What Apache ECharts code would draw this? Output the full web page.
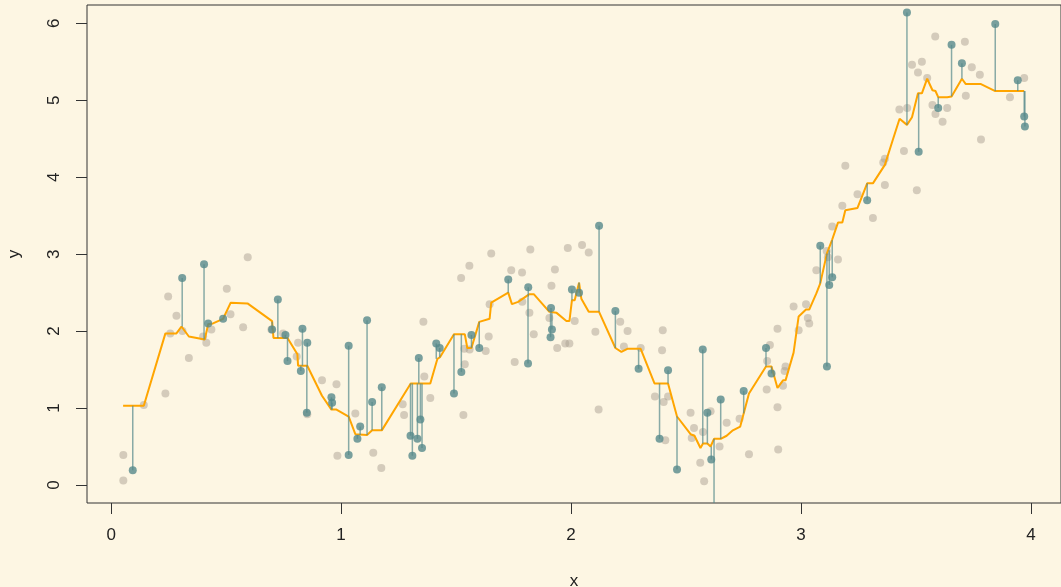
<!DOCTYPE html>
<html><head><meta charset="utf-8">
<script src="https://cdn.jsdelivr.net/npm/echarts@6/dist/echarts.min.js"></script>
<style>html,body{margin:0;padding:0;background:#FDF6E3}#c{width:1061px;height:587px}</style>
</head><body><div id="c"></div><script>
// training points (gray)
const trainX = [0.053,0.053,0.142,0.236,0.248,0.284,0.257,0.31,0.338,0.40,0.414,0.436,0.503,0.519,0.574,0.594,
 0.697,0.748,0.813,0.807,0.853,0.917,0.98,0.984,1.062,1.14,1.175,1.268,1.274,
 1.358,1.362,1.388,1.522,1.558,1.538,1.532,1.536,1.559,1.642,1.629,1.646,1.653,1.74,1.787,1.788,1.755,1.823,1.819,1.838,1.915,1.93,1.906,1.94,1.975,1.993,1.986,
 2.016,2.048,2.077,2.106,2.12,2.214,2.246,2.23,2.303,2.399,2.396,2.365,2.403,2.422,2.41,2.52,2.535,2.525,2.574,2.562,2.579,2.607,2.646,2.677,
 2.733,2.774,2.851,2.853,2.865,2.898,2.898,2.901,2.922,2.929,2.933,2.968,2.99,3.022,3.03,3.036,3.067,3.112,3.117,3.136,3.161,3.18,3.193,3.246,3.313,3.365,3.358,3.365,
 3.428,3.462,3.448,3.483,3.526,3.509,3.504,3.549,3.584,3.572,3.585,3.616,3.636,3.713,3.717,3.743,3.778,3.783,3.909,3.971];
const trainY = [0.39,0.06,1.04,1.19,2.45,2.20,1.97,2.00,1.65,1.93,1.85,2.02,2.55,2.22,2.05,2.96,
 2.02,1.97,1.85,1.67,0.92,1.36,1.31,0.38,0.93,0.42,0.22,1.05,0.91,
 2.12,1.41,1.13,2.69,2.85,1.57,0.91,1.77,1.76,1.93,1.74,2.35,3.01,2.79,2.76,2.38,1.60,3.06,2.24,1.96,2.59,2.80,2.17,1.78,1.84,1.84,3.08,
 2.13,3.12,3.02,1.99,0.98,2.12,2.00,1.80,1.78,2.01,1.75,1.15,1.08,1.15,0.58,0.94,0.74,0.61,0.69,0.29,0.05,0.96,0.50,0.81,
 0.86,0.40,1.24,1.61,1.82,2.03,1.01,0.46,1.29,1.48,1.54,2.32,2.01,2.35,2.17,2.10,2.79,3.04,2.96,3.36,2.93,3.63,4.15,3.78,3.47,3.90,4.19,4.24,
 4.88,4.90,4.34,5.46,5.50,5.36,3.83,5.29,5.83,4.94,4.82,4.72,4.90,5.76,5.06,5.43,5.33,4.49,5.04,5.29];
// test points (teal) and fitted values at them
const testX = [0.094,0.309,0.404,0.422,0.487,0.70,0.725,0.758,0.767,0.832,0.825,0.853,0.851,0.958,0.961,1.033,1.033,1.071,1.083,1.113,1.135,1.177,
 1.302,1.31,1.338,1.332,1.345,1.352,1.414,1.429,1.491,1.523,1.567,1.601,1.727,1.814,1.813,1.913,1.917,1.911,
 2.004,2.035,2.122,2.193,2.294,2.385,2.422,2.461,2.573,2.593,2.61,2.622,2.651,2.751,2.848,2.872,3.084,3.113,3.123,3.136,3.288,
 3.461,3.512,3.597,3.655,3.70,3.845,3.943,3.971,3.974];
const testY = [0.19,2.69,2.87,2.10,2.16,2.02,2.41,1.95,1.61,2.03,1.48,1.85,0.94,1.14,1.07,1.81,0.39,0.60,0.76,2.14,1.08,1.27,
 0.64,0.38,1.65,0.60,0.85,0.48,1.84,1.78,1.19,1.47,1.95,1.78,2.67,2.57,1.58,2.30,2.02,1.92,
 2.54,2.50,3.37,2.26,1.51,0.60,1.49,0.20,1.76,0.94,0.33,-0.6,1.11,1.22,1.78,1.45,3.11,1.54,2.60,2.70,3.70,
 6.14,4.33,4.90,5.72,5.48,5.99,5.26,4.79,4.66];
const testFit = [1.03,2.06,1.89,2.09,2.16,2.12,1.91,1.91,1.91,1.55,1.55,1.55,1.55,0.98,0.98,0.89,0.89,0.65,0.65,0.65,0.71,0.71,
 1.32,1.32,1.32,1.32,1.32,1.32,1.64,1.66,1.96,1.96,1.78,2.12,2.50,2.44,2.44,2.24,2.24,2.24,
 2.40,2.63,2.25,1.78,1.76,1.32,1.32,0.89,0.54,0.54,0.50,0.60,0.60,0.93,1.54,1.54,2.62,3.01,3.05,3.18,3.92,
 4.68,5.09,5.04,5.05,5.28,5.12,5.12,5.12,5.12];
// fitted curve (orange)
const fitX = [0.052,0.142,0.236,0.284,0.306,0.338,0.407,0.422,0.443,0.487,0.52,0.593,0.70,0.706,0.767,0.81,0.813,0.853,0.917,0.958,0.98,1.033,1.062,1.113,1.135,1.177,1.27,1.303,1.388,1.419,1.43,1.491,1.538,1.549,1.567,1.601,1.646,1.653,1.727,1.743,1.77,1.819,1.838,1.906,1.936,1.98,1.993,
 2.004,2.016,2.035,2.045,2.077,2.122,2.193,2.219,2.245,2.303,2.363,2.422,2.461,2.52,2.537,2.563,2.574,2.593,2.607,2.622,2.651,2.677,2.704,2.736,2.774,2.848,2.872,2.898,2.922,2.933,2.968,2.99,
 3.022,3.036,3.067,3.084,3.113,3.136,3.161,3.18,3.193,3.246,3.288,3.313,3.365,3.40,3.429,3.461,3.483,3.509,3.526,3.549,3.572,3.585,3.597,3.636,3.655,3.70,3.717,3.783,3.845,3.971];
const fitY = [1.03,1.03,1.97,1.97,2.06,1.93,1.89,2.09,2.10,2.16,2.37,2.36,2.13,1.91,1.91,1.70,1.55,1.55,1.16,0.98,0.98,0.89,0.66,0.65,0.71,0.71,1.16,1.32,1.32,1.64,1.66,1.96,1.96,1.78,1.78,2.12,2.16,2.37,2.50,2.35,2.38,2.48,2.48,2.25,2.24,2.13,2.13,
 2.40,2.40,2.63,2.42,2.25,2.25,1.78,1.73,1.77,1.77,1.32,1.32,0.89,0.66,0.64,0.48,0.54,0.54,0.50,0.60,0.60,0.64,0.71,0.76,1.19,1.54,1.54,1.26,1.36,1.36,1.72,2.19,
 2.28,2.28,2.49,2.62,3.01,3.19,3.41,3.41,3.57,3.60,3.92,3.92,4.16,4.49,4.76,4.68,4.78,5.09,5.09,5.28,5.13,5.12,5.04,5.04,5.05,5.28,5.21,5.21,5.12,5.12];
const xTicks = [0,1,2,3,4];
const yTicks = [0,1,2,3,4,5,6];

const chart = echarts.init(document.getElementById('c'), null, {renderer:'canvas'});
const font = 'Liberation Sans, Arial, sans-serif';
const teal = '#568a8b';
chart.setOption({
  backgroundColor: '#FDF6E3',
  animation: false,
  grid: {left: 87, right: 0, top: 5, bottom: 84, containLabel: false, outerBoundsMode: 'none',
         show: true, borderColor: '#333', borderWidth: 1, backgroundColor: 'transparent'},
  xAxis: {
    type: 'value', min: -0.105, max: 4.131,
    name: 'x', nameLocation: 'middle', nameGap: 70,
    nameTextStyle: {fontFamily: font, fontSize: 17, color: '#222'},
    axisLine: {show: false, onZero: false},
    axisTick: {show: true, inside: false, length: 11, lineStyle: {color: '#333'}, customValues: xTicks},
    axisLabel: {fontFamily: font, fontSize: 17, color: '#222', margin: 24, customValues: xTicks},
    splitLine: {show: false}
  },
  yAxis: {
    type: 'value', min: -0.234, max: 6.238,
    name: 'y', nameLocation: 'middle', nameGap: 64, nameRotate: 90,
    nameTextStyle: {fontFamily: font, fontSize: 17, color: '#222'},
    axisLine: {show: false, onZero: false},
    axisTick: {show: true, inside: false, length: 11, lineStyle: {color: '#333'}, customValues: yTicks},
    axisLabel: {fontFamily: font, fontSize: 17, color: '#222', margin: 24, rotate: 90, customValues: yTicks},
    splitLine: {show: false}
  },
  series: [
    {type: 'scatter', symbolSize: 8, z: 1,
     itemStyle: {color: 'rgba(170,160,145,0.62)'},
     data: trainX.map((x, i) => [x, trainY[i]])},
    {type: 'line', symbol: 'none', z: 2,
     lineStyle: {color: '#FFA500', width: 2},
     data: fitX.map((x, i) => [x, fitY[i]])},
    {type: 'custom', z: 3, clip: true,
     encode: {x: 0, y: [1, 2]},
     data: testX.map((x, i) => [x, testY[i], testFit[i]]),
     renderItem: (params, api) => {
       const p1 = api.coord([api.value(0), api.value(1)]);
       const p2 = api.coord([api.value(0), api.value(2)]);
       return {type: 'line', shape: {x1: p1[0], y1: p1[1], x2: p2[0], y2: p2[1]},
               style: {stroke: 'rgba(86,138,139,0.7)', lineWidth: 1.5}};
     }},
    {type: 'scatter', symbolSize: 8, z: 4,
     itemStyle: {color: teal},
     data: testX.map((x, i) => [x, testY[i]])}
  ]
});
</script></body></html>
